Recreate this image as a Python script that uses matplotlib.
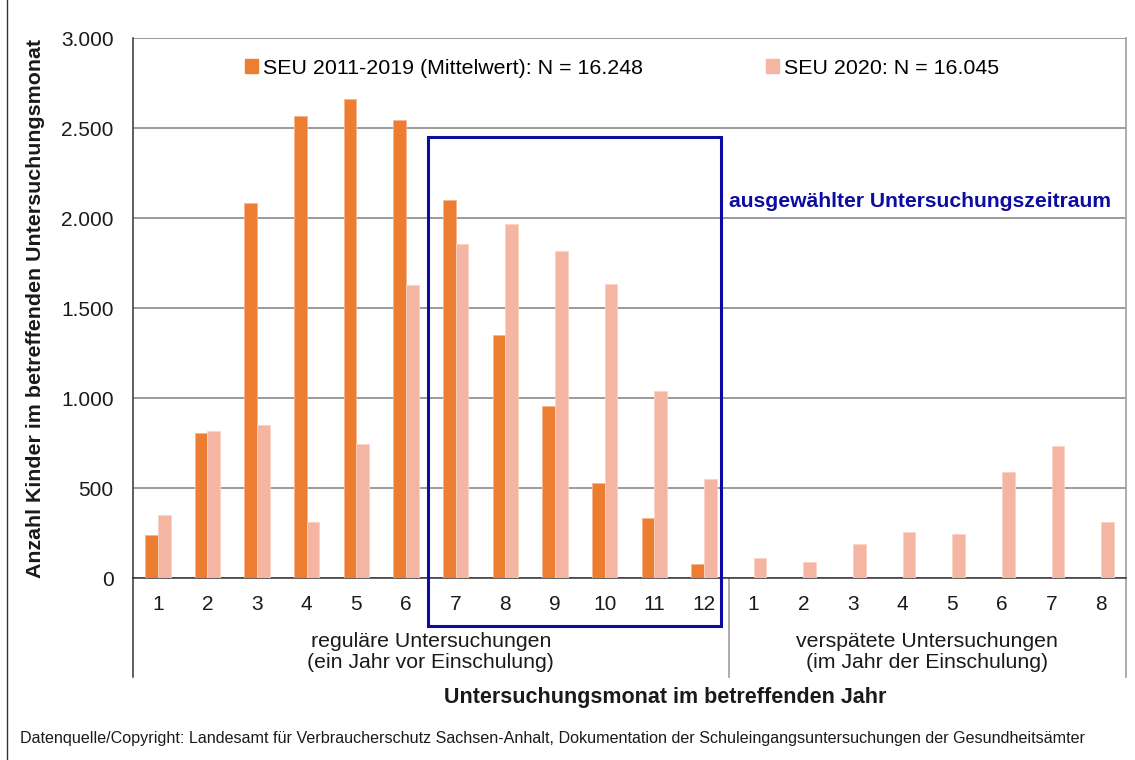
import numpy as np
import matplotlib
matplotlib.use("Agg")
import matplotlib.pyplot as plt
import matplotlib.patches as mpatches
from matplotlib.lines import Line2D
from matplotlib.ticker import FuncFormatter
import matplotlib.transforms as mtransforms

plt.rcParams['font.family'] = ['Liberation Sans', 'DejaVu Sans']

# Daten
monate_regulaer = ['1', '2', '3', '4', '5', '6', '7', '8', '9', '10', '11', '12']
monate_spaet = ['1', '2', '3', '4', '5', '6', '7', '8']
seu_2011_2019 = [239, 805, 2083, 2568, 2661, 2544, 2100, 1350, 957, 529, 335, 78]
seu_2020_regulaer = [350, 819, 850, 311, 744, 1629, 1856, 1967, 1817, 1633, 1039, 552]
seu_2020_spaet = [111, 89, 189, 256, 244, 589, 733, 311]
label_alt = 'SEU 2011-2019 (Mittelwert): N = 16.248'
label_neu = 'SEU 2020: N = 16.045'

ORANGE = '#ED7D31'
HELL = '#F4B6A2'
BLAU = '#0C0CA0'

W, H = 1135, 760
fig = plt.figure(figsize=(W / 100, H / 100), dpi=100)
ax = fig.add_axes([133 / W, 1 - 578 / H, (1126 - 133) / W, (578 - 38) / H])

n_reg = len(monate_regulaer)
x_reg = np.arange(n_reg)
x_spaet = np.arange(n_reg, n_reg + len(monate_spaet))
bw = 0.256

ax.bar(x_reg - bw / 2, seu_2011_2019, bw, color=ORANGE, edgecolor='#F6B58A', linewidth=0.6, zorder=3)
ax.bar(x_reg + bw / 2, seu_2020_regulaer, bw, color=HELL, edgecolor='#F9D3C4', linewidth=0.6, zorder=3)
ax.bar(x_spaet + bw / 2, seu_2020_spaet, bw, color=HELL, edgecolor='#F9D3C4', linewidth=0.6, zorder=3)

ax.set_xlim(-0.5, n_reg + len(monate_spaet) - 0.5)
ax.set_ylim(0, 3000)
ax.set_yticks(np.arange(0, 3001, 500))
ax.yaxis.set_major_formatter(FuncFormatter(lambda v, p: f'{int(v):,}'.replace(',', '.')))
ax.set_xticks(np.concatenate([x_reg, x_spaet]))
ax.set_xticklabels(monate_regulaer + monate_spaet)
ax.tick_params(axis='both', length=0, labelsize=15, colors='#1a1a1a')
ax.tick_params(axis='y', pad=14)
ax.tick_params(axis='x', pad=12)

ax.grid(axis='y', color='#808080', linewidth=1.1, zorder=0)
for s in ['top', 'right']:
    ax.spines[s].set_visible(False)
ax.spines['left'].set_color('#333333')
ax.spines['bottom'].set_color('#333333')
ax.spines['left'].set_linewidth(1.1)
ax.spines['bottom'].set_linewidth(1.1)

# Gruppentrenner unter der Achse
trans = mtransforms.blended_transform_factory(ax.transData, ax.transAxes)
y_unten = (578 - 677) / 540
ax.add_line(Line2D([-0.5, -0.5], [0, y_unten], transform=trans, color='#333333', lw=1.1, clip_on=False))
ax.add_line(Line2D([n_reg - 0.5] * 2, [0, y_unten], transform=trans, color='#A6A6A6', lw=1.3, clip_on=False))
ax.add_line(Line2D([19.5, 19.5], [0, 1], transform=trans, color='#A6A6A6', lw=1.3, clip_on=False))
ax.add_line(Line2D([19.5, 19.5], [0, y_unten], transform=trans, color='#A6A6A6', lw=1.3, clip_on=False))

y_gruppe = (578 - 652) / 540
ax.text((n_reg - 1) / 2, y_gruppe, 'reguläre Untersuchungen\n(ein Jahr vor Einschulung)',
        transform=trans, ha='center', va='center', fontsize=15.3, color='#1a1a1a', linespacing=1.08)
ax.text(n_reg + (len(monate_spaet) - 1) / 2, y_gruppe, 'verspätete Untersuchungen\n(im Jahr der Einschulung)',
        transform=trans, ha='center', va='center', fontsize=15.3, color='#1a1a1a', linespacing=1.08)

# ausgewählter Zeitraum
rect = mpatches.Rectangle((5.44, -267), 5.9, 2717, fill=False, edgecolor=BLAU, linewidth=2.2,
                          clip_on=False, zorder=5)
ax.add_patch(rect)
ax.text(15.35, 2094, 'ausgewählter Untersuchungszeitraum', ha='center', va='center',
        fontsize=15.2, fontweight='bold', color=BLAU)

# Legende
handles = [mpatches.Patch(color=ORANGE), mpatches.Patch(color=HELL)]
ax.legend(handles, [label_alt, label_neu], ncol=2, frameon=False, loc='center',
          bbox_to_anchor=(0.4925, 0.944), fontsize=15.4, handlelength=0.6, handleheight=0.6,
          handletextpad=0.2, columnspacing=5.8)

fig.text(36 / W, 1 - 308 / H, 'Anzahl Kinder im betreffenden Untersuchungsmonat', rotation=90,
         ha='center', va='center', fontsize=15.4, fontweight='bold', color='#1a1a1a')
fig.text(665 / W, 1 - 698 / H, 'Untersuchungsmonat im betreffenden Jahr',
         ha='center', va='center', fontsize=15.5, fontweight='bold', color='#1a1a1a')
fig.text(20 / W, 1 - 738 / H,
         'Datenquelle/Copyright: Landesamt für Verbraucherschutz Sachsen-Anhalt, '
         'Dokumentation der Schuleingangsuntersuchungen der Gesundheitsämter',
         ha='left', va='center', fontsize=11.6, color='#1a1a1a')

fig.add_artist(Line2D([7 / W, 7 / W], [0, 1], color='#333333', lw=1))

fig.savefig('out.png', dpi=100)
